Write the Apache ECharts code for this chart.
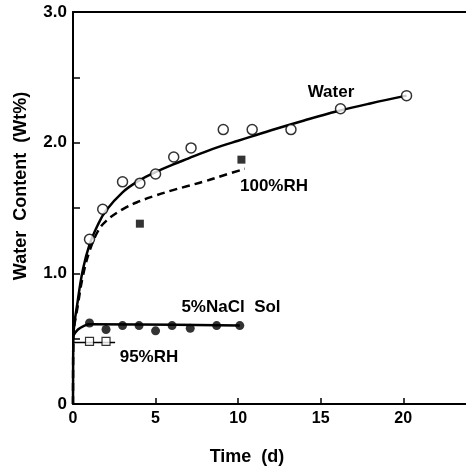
<!DOCTYPE html>
<html><head><meta charset="utf-8">
<script src="https://cdn.jsdelivr.net/npm/echarts@6/dist/echarts.min.js"></script>
<style>html,body{margin:0;padding:0;background:#fff}#c{width:466px;height:468px}</style>
</head><body><div id="c"></div>
<script>
// Measured points
var waterT = [1.0, 1.8, 3.0, 4.05, 5.0, 6.1, 7.15, 9.1, 10.85, 13.2, 16.2, 20.2];
var waterV = [1.26, 1.49, 1.70, 1.69, 1.76, 1.89, 1.96, 2.10, 2.10, 2.10, 2.26, 2.36];
var rh100T = [4.05, 10.2];
var rh100V = [1.38, 1.87];
var naclT = [1.0, 2.0, 3.0, 4.0, 5.0, 6.0, 7.1, 8.7, 10.1];
var naclV = [0.62, 0.57, 0.60, 0.60, 0.56, 0.60, 0.58, 0.60, 0.60];
var rh95T = [1.0, 2.0];
var rh95V = [0.48, 0.48];
// Fitted curves
var waterFitT = [0, 0.02, 0.3, 0.6, 1, 1.5, 2, 3, 4, 5, 6, 7, 8, 9, 10, 12, 14, 16, 18, 20.2];
var waterFitV = [0, 0.5, 0.8, 1.03, 1.22, 1.37, 1.48, 1.62, 1.71, 1.775, 1.83, 1.88, 1.93, 1.975, 2.015, 2.095, 2.17, 2.24, 2.30, 2.36];
var rhFitT = [0, 0.02, 0.3, 0.6, 1, 1.5, 2, 3, 4, 5, 6, 7, 8, 9, 10.4];
var rhFitV = [0, 0.5, 0.76, 0.98, 1.17, 1.32, 1.40, 1.49, 1.55, 1.595, 1.635, 1.67, 1.705, 1.745, 1.80];
var naclFitT = [0, 0.3, 0.7, 1, 10.1];
var naclFitV = [0.52, 0.57, 0.60, 0.61, 0.60];
var rh95FitT = [0, 2.55];
var rh95FitV = [0.47, 0.47];
// Axis
var xTicks = [0, 5, 10, 15, 20];
var yTickLabels = ['0', '1.0', '2.0', '3.0'];

function pairs(a, b) { return a.map(function (v, i) { return [v, b[i]]; }); }
var sans = "'Liberation Sans',Arial,sans-serif";

var chart = echarts.init(document.getElementById('c'), null, { renderer: 'canvas' });
chart.setOption({
  animation: false,
  backgroundColor: '#fff',
  grid: { left: 73, right: 0, top: 12, bottom: 64, containLabel: false },
  xAxis: [{
    type: 'value', min: 0, max: 23.8, interval: 5, position: 'bottom',
    splitLine: { show: false },
    axisLine: { lineStyle: { color: '#000', width: 2 } },
    axisTick: { inside: true, length: 6, lineStyle: { color: '#000', width: 1.5 } },
    axisLabel: {
      color: '#000', fontFamily: sans, fontWeight: 'bold', fontSize: 16, margin: 7,
      showMaxLabel: false,
      formatter: function (v) { return xTicks.indexOf(v) >= 0 ? String(v) : ''; }
    }
  }, {
    type: 'value', min: 0, max: 23.8, position: 'top',
    splitLine: { show: false }, axisTick: { show: false }, axisLabel: { show: false },
    axisLine: { lineStyle: { color: '#000', width: 2 } }
  }],
  yAxis: {
    type: 'value', min: 0, max: 3, interval: 0.5,
    splitLine: { show: false },
    axisLine: { lineStyle: { color: '#000', width: 2 } },
    axisTick: { inside: true, length: 7, lineStyle: { color: '#000', width: 1.5 } },
    axisLabel: {
      color: '#000', fontFamily: sans, fontWeight: 'bold', fontSize: 17, margin: 6,
      formatter: function (v) { return (Math.abs(v - Math.round(v)) < 1e-9) ? yTickLabels[Math.round(v)] : ''; }
    }
  },
  graphic: [
    { type: 'text', x: 21, y: 186, rotation: Math.PI / 2,
      style: { text: 'Water  Content  (Wt%)', fill: '#000', font: 'bold 18px ' + sans, textAlign: 'center', textVerticalAlign: 'middle' } },
    { type: 'text', x: 247, y: 457,
      style: { text: 'Time  (d)', fill: '#000', font: 'bold 18px ' + sans, textAlign: 'center', textVerticalAlign: 'middle' } },
    { type: 'text', x: 331, y: 92,
      style: { text: 'Water', fill: '#000', font: 'bold 17px ' + sans, textAlign: 'center', textVerticalAlign: 'middle' } },
    { type: 'text', x: 274, y: 186,
      style: { text: '100%RH', fill: '#000', font: 'bold 17px ' + sans, textAlign: 'center', textVerticalAlign: 'middle' } },
    { type: 'text', x: 231, y: 307,
      style: { text: '5%NaCl  Sol', fill: '#000', font: 'bold 17px ' + sans, textAlign: 'center', textVerticalAlign: 'middle' } },
    { type: 'text', x: 149, y: 357,
      style: { text: '95%RH', fill: '#000', font: 'bold 17px ' + sans, textAlign: 'center', textVerticalAlign: 'middle' } }
  ],
  series: [
    { type: 'line', data: pairs(waterFitT, waterFitV), showSymbol: false, smooth: 0.4,
      lineStyle: { color: '#000', width: 2.5 }, z: 2 },
    { type: 'line', data: pairs(rhFitT, rhFitV), showSymbol: false, smooth: 0.4,
      lineStyle: { color: '#000', width: 2.5, type: [8, 5] }, z: 2 },
    { type: 'line', data: pairs(naclFitT, naclFitV), showSymbol: false, smooth: 0.4,
      lineStyle: { color: '#000', width: 2.5 }, z: 2 },
    { type: 'line', data: pairs(rh95FitT, rh95FitV), showSymbol: false,
      lineStyle: { color: '#000', width: 1.5 }, z: 2 },
    { type: 'scatter', data: pairs(waterT, waterV), symbol: 'circle', symbolSize: 10,
      itemStyle: { color: '#fff', borderColor: '#000', borderWidth: 1.5 }, z: 3 },
    { type: 'scatter', data: pairs(rh100T, rh100V), symbol: 'rect', symbolSize: 8,
      itemStyle: { color: '#000' }, z: 3 },
    { type: 'scatter', data: pairs(naclT, naclV), symbol: 'circle', symbolSize: 9,
      itemStyle: { color: '#000' }, z: 3 },
    { type: 'scatter', data: pairs(rh95T, rh95V), symbol: 'rect', symbolSize: 8,
      itemStyle: { color: '#fff', borderColor: '#000', borderWidth: 1.2 }, z: 3 }
  ]
});
</script></body></html>
